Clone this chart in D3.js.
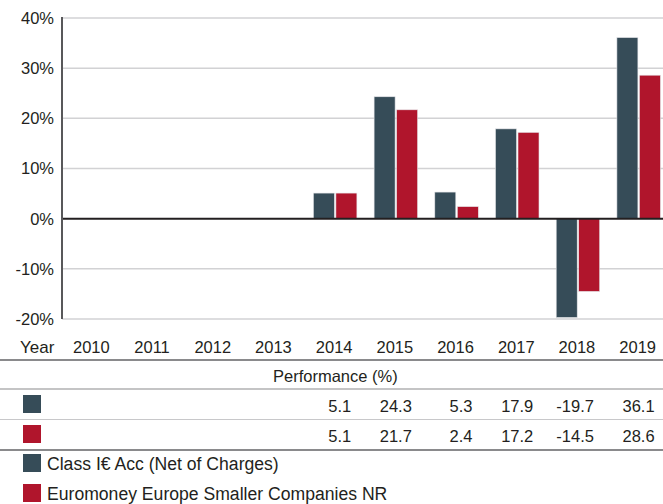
<!DOCTYPE html>
<html>
<head>
<meta charset="utf-8">
<script src="https://cdn.jsdelivr.net/npm/d3@7"></script>
<style>
  body { margin: 0; background: #fff; }
  text { font-family: "Liberation Sans", Arial, sans-serif; fill: #231f20; }
</style>
</head>
<body>
<div id="chart"></div>
<script>
// data
var years = ["2010", "2011", "2012", "2013", "2014", "2015", "2016", "2017", "2018", "2019"];
var fund = [null, null, null, null, 5.1, 24.3, 5.3, 17.9, -19.7, 36.1];
var index = [null, null, null, null, 5.1, 21.7, 2.4, 17.2, -14.5, 28.6];
var seriesNames = ["Class I€ Acc (Net of Charges)", "Euromoney Europe Smaller Companies NR"];
var colors = ["#364c58", "#b0152c"];
var yTicks = [-20, -10, 0, 10, 20, 30, 40];

var width = 663, height = 504;

var svg = d3.select("#chart")
  .append("svg")
    .attr("width", width)
    .attr("height", height);

var x = d3.scaleBand()
    .domain(years)
    .range([62, 669])
    .paddingInner(0)
    .paddingOuter(0);

var y = d3.scaleLinear()
    .domain([-20, 40])
    .range([319, 18]);

var barW = 21, gap = 1.5;

// gridlines
svg.append("g")
  .selectAll("line")
  .data(yTicks.filter(function(d) { return d !== 0; }))
  .enter().append("line")
    .attr("x1", 62).attr("x2", width)
    .attr("y1", function(d) { return y(d); })
    .attr("y2", function(d) { return y(d); })
    .attr("stroke", "#d2d2d4")
    .attr("stroke-width", 1.5);

// y tick labels
svg.append("g")
  .selectAll("text")
  .data(yTicks)
  .enter().append("text")
    .attr("x", 54)
    .attr("y", function(d) { return y(d); })
    .attr("dy", "0.36em")
    .attr("text-anchor", "end")
    .style("font-size", "16.5px")
    .text(function(d) { return d + "%"; });

// bars
var series = [fund, index];
series.forEach(function(vals, s) {
  svg.append("g")
    .attr("fill", colors[s])
    .selectAll("rect")
    .data(years.map(function(yr, i) { return {year: yr, v: vals[i]}; })
                .filter(function(d) { return d.v !== null; }))
    .enter().append("rect")
      .attr("x", function(d) {
        var c = x(d.year) + x.bandwidth() / 2;
        return s === 0 ? c - gap / 2 - barW : c + gap / 2;
      })
      .attr("y", function(d) { return y(Math.max(0, d.v)); })
      .attr("width", barW)
      .attr("height", function(d) { return Math.abs(y(d.v) - y(0)); })
      .attr("stroke", "#e4e4e8")
      .attr("stroke-width", 0.6);
});

// zero line and y axis line
svg.append("line")
  .attr("x1", 62).attr("x2", width)
  .attr("y1", y(0)).attr("y2", y(0))
  .attr("stroke", "#231f20")
  .attr("stroke-width", 2);
svg.append("line")
  .attr("x1", 62).attr("x2", 62)
  .attr("y1", y(40) - 1).attr("y2", y(-20))
  .attr("stroke", "#58585a")
  .attr("stroke-width", 2);

// ----- TABLE -----
svg.append("text")
  .attr("x", 20).attr("y", 353)
  .style("font-size", "17px")
  .text("Year");

svg.append("g")
  .selectAll("text")
  .data(years)
  .enter().append("text")
    .attr("x", function(d) { return x(d) + x.bandwidth() / 2 - 1; })
    .attr("y", 353)
    .attr("text-anchor", "middle")
    .style("font-size", "16.5px")
    .text(function(d) { return d; });

var rules = [
  {y: 360, c: "#8a8a8c", w: 2},
  {y: 389, c: "#8a8a8c", w: 1.2},
  {y: 419.5, c: "#c8c8ca", w: 1.2},
  {y: 450, c: "#8a8a8c", w: 2}
];
svg.append("g")
  .selectAll("line")
  .data(rules)
  .enter().append("line")
    .attr("x1", 0).attr("x2", width)
    .attr("y1", function(d) { return d.y; })
    .attr("y2", function(d) { return d.y; })
    .attr("stroke", function(d) { return d.c; })
    .attr("stroke-width", function(d) { return d.w; });

svg.append("text")
  .attr("x", 273).attr("y", 382)
  .style("font-size", "16.5px")
  .text("Performance (%)");

var rowBase = [412, 442];
series.forEach(function(vals, s) {
  svg.append("rect")
    .attr("x", 23).attr("y", rowBase[s] - 17)
    .attr("width", 18).attr("height", 18)
    .attr("fill", colors[s]);
  svg.append("g")
    .selectAll("text")
    .data(years.map(function(yr, i) { return {year: yr, v: vals[i]}; })
                .filter(function(d) { return d.v !== null; }))
    .enter().append("text")
      .attr("x", function(d) { return x(d.year) + x.bandwidth() / 2 + 16; })
      .attr("y", rowBase[s])
      .attr("text-anchor", "end")
      .style("font-size", "16.5px")
      .text(function(d) { return d.v.toFixed(1); });
});

// ----- LEGEND -----
var legend = svg.selectAll(".legend")
  .data(seriesNames)
  .enter().append("g")
    .attr("class", "legend")
    .attr("transform", function(d, i) { return "translate(0," + (454 + i * 30) + ")"; });

legend.append("rect")
  .attr("x", 23)
  .attr("width", 18)
  .attr("height", 18)
  .attr("fill", function(d, i) { return colors[i]; });

legend.append("text")
  .attr("x", 47)
  .attr("y", 16)
  .style("font-size", "17.6px")
  .text(function(d) { return d; });
</script>
</body>
</html>
